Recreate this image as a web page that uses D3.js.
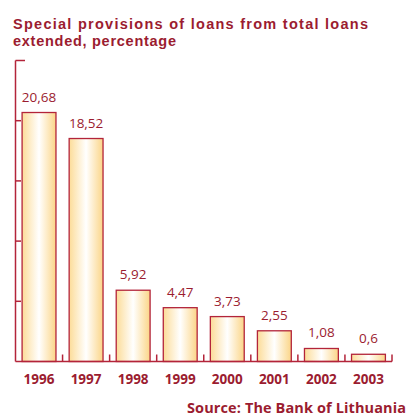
<!DOCTYPE html>
<html>
<head>
<meta charset="utf-8">
<script src="https://cdn.jsdelivr.net/npm/d3@7"></script>
<style>
  body { margin: 0; background: #fff; }
  svg text { font-family: 'Open Sans', 'DejaVu Sans', sans-serif; fill: #9b1c30; }
  svg text.title { font-family: 'Liberation Sans', Arial, sans-serif; }
</style>
</head>
<body>
<div id="chart"></div>
<script>
const years = ['1996', '1997', '1998', '1999', '2000', '2001', '2002', '2003']
const values = [20.68, 18.52, 5.92, 4.47, 3.73, 2.55, 1.08, 0.6]
const labels = ['20,68', '18,52', '5,92', '4,47', '3,73', '2,55', '1,08', '0,6']
const yTicks = [0, 5, 10, 15, 20, 25]
const titleLines = ['Special provisions of loans from total loans', 'extended, percentage']

const width = 409
const height = 417
const red = '#b3243a'

const svg = d3.select('#chart')
  .append('svg')
  .attr('width', width)
  .attr('height', height)

// gradient for bars: yellow edges, white middle
const grad = svg.append('defs').append('linearGradient')
  .attr('id', 'barfill')
  .attr('x1', '0%').attr('x2', '100%')
grad.append('stop').attr('offset', '0%').attr('stop-color', '#fcdc98')
grad.append('stop').attr('offset', '50%').attr('stop-color', '#ffffff')
grad.append('stop').attr('offset', '100%').attr('stop-color', '#fbd587')

const x = d3.scaleBand()
  .domain(years)
  .range([15.5, 392])
  .paddingInner(0.28)
  .paddingOuter(0.14)

const xStep = d3.scaleBand().domain(years).range([15.5, 392])

const y = d3.scaleLinear()
  .domain([0, 25])
  .range([361.5, 60.5])

// title lines
svg.selectAll('.title')
  .data(titleLines)
  .enter().append('text')
  .attr('class', 'title')
  .attr('x', 13)
  .attr('y', (d, i) => 29 + i * 16.5)
  .attr('font-size', 14.5).attr('font-weight', 'bold')
  .attr('textLength', (d, i) => i === 0 ? 355 : 163)
  .text(d => d)

// y axis
svg.append('line')
  .attr('x1', 15.5).attr('x2', 15.5)
  .attr('y1', y(25)).attr('y2', y(0))
  .attr('stroke', red).attr('stroke-width', 1.5)
svg.selectAll('.ytick')
  .data(yTicks.slice(1))
  .enter().append('line')
  .attr('class', 'ytick')
  .attr('x1', 15.5)
  .attr('x2', d => d === 25 ? 25 : 21)
  .attr('y1', d => y(d)).attr('y2', d => y(d))
  .attr('stroke', red).attr('stroke-width', 1.5)

// bars
svg.selectAll('.bar')
  .data(values)
  .enter().append('rect')
  .attr('class', 'bar')
  .attr('x', (d, i) => x(years[i]))
  .attr('width', x.bandwidth())
  .attr('y', d => y(d))
  .attr('height', d => y(0) - y(d))
  .attr('fill', 'url(#barfill)')
  .attr('stroke', red).attr('stroke-width', 1.3)

// x axis
svg.append('line')
  .attr('x1', 15.5).attr('x2', 392)
  .attr('y1', y(0)).attr('y2', y(0))
  .attr('stroke', red).attr('stroke-width', 1.5)
svg.selectAll('.xtick')
  .data(years.slice(1).concat(['end']))
  .enter().append('line')
  .attr('class', 'xtick')
  .attr('x1', (d, i) => i < years.length - 1 ? xStep(d) : 392)
  .attr('x2', (d, i) => i < years.length - 1 ? xStep(d) : 392)
  .attr('y1', y(0) - 7).attr('y2', y(0))
  .attr('stroke', red).attr('stroke-width', 1.5)

// value labels
svg.selectAll('.val')
  .data(values)
  .enter().append('text')
  .attr('class', 'val')
  .attr('x', (d, i) => x(years[i]) + x.bandwidth() / 2)
  .attr('y', d => y(d) - 11)
  .attr('text-anchor', 'middle')
  .attr('font-size', 13.5)
  .text((d, i) => labels[i])

// year labels
svg.selectAll('.yr')
  .data(years)
  .enter().append('text')
  .attr('class', 'yr')
  .attr('x', d => x(d) + x.bandwidth() / 2)
  .attr('y', 384)
  .attr('text-anchor', 'middle')
  .attr('font-size', 13.5).attr('font-weight', 'bold')
  .text(d => d)

// source
svg.append('text')
  .attr('x', 187).attr('y', 413)
  .attr('font-size', 14.5).attr('font-weight', 'bold')
  .attr('textLength', 219)
  .text('Source: The Bank of Lithuania')
</script>
</body>
</html>
